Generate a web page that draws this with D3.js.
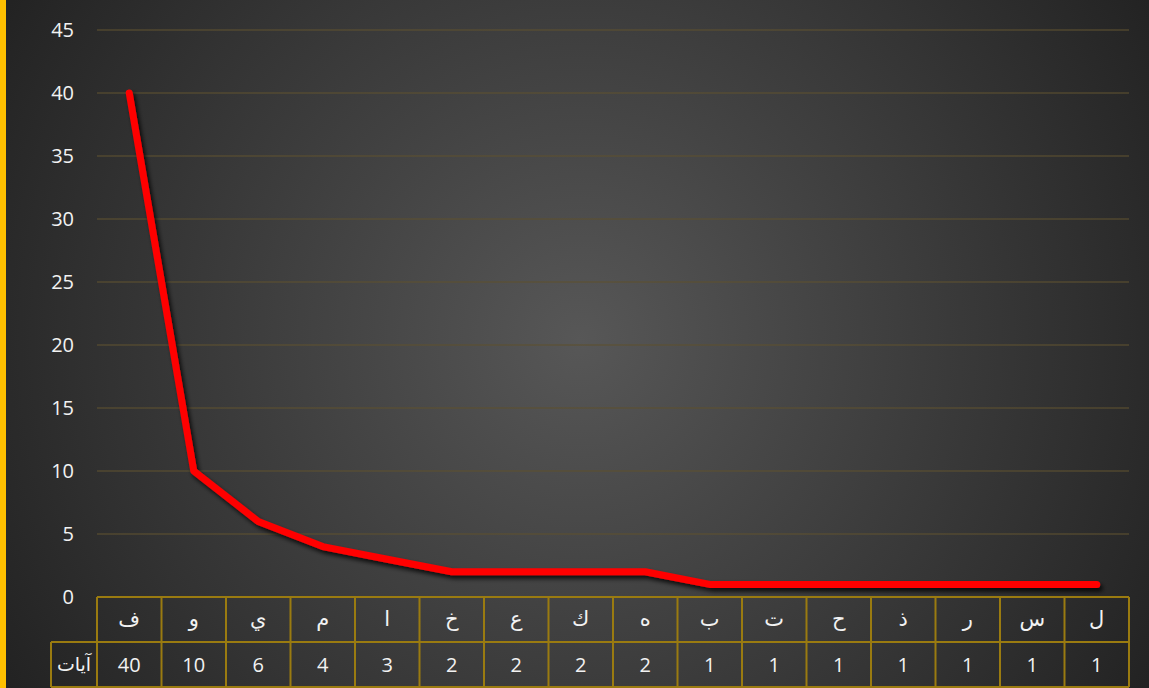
<!DOCTYPE html>
<html><head><meta charset="utf-8">
<script src="https://cdn.jsdelivr.net/npm/d3@7"></script>
<style>html,body{margin:0;padding:0;background:#2a2a2a;overflow:hidden}svg{display:block}</style>
</head><body>
<svg id="c" width="1149" height="688"></svg>
<script>
const categories = ["ف","و","ي","م","ا","خ","ع","ك","ه","ب","ت","ح","ذ","ر","س","ل"];
const values = [40,10,6,4,3,2,2,2,2,1,1,1,1,1,1,1];
const yTicks = [0,5,10,15,20,25,30,35,40,45];
const seriesName = "آيات";

const W = 1149, H = 688;
const svg = d3.select("#c");
const defs = svg.append("defs");
const rg = defs.append("radialGradient").attr("id","bg").attr("gradientUnits","userSpaceOnUse")
  .attr("cx",580).attr("cy",340).attr("r",700);
rg.append("stop").attr("offset","0").attr("stop-color","#575757");
rg.append("stop").attr("offset","1").attr("stop-color","#202020");
const f = defs.append("filter").attr("id","sh").attr("x","-10%").attr("y","-10%").attr("width","130%").attr("height","130%");
f.append("feDropShadow").attr("dx",2.5).attr("dy",3.5).attr("stdDeviation",2).attr("flood-color","#000").attr("flood-opacity",0.8);

svg.append("rect").attr("width",W).attr("height",H).attr("fill","url(#bg)");
svg.append("rect").attr("x",0).attr("y",0).attr("width",6).attr("height",H).attr("fill","#ffc000");

const x = d3.scaleBand().domain(categories).range([97,1129]).padding(0);
const y = d3.scaleLinear().domain([0,45]).range([597,30]);

const font = "'Open Sans','Noto Sans','DejaVu Sans',sans-serif";

// gridlines
svg.append("g").selectAll("line").data(yTicks.filter(d=>d>0)).join("line")
  .attr("x1",97).attr("x2",1129).attr("y1",d=>y(d)).attr("y2",d=>y(d))
  .attr("stroke","#5e5232").attr("stroke-opacity",0.75).attr("stroke-width",1.5);

// y axis
const yAxis = d3.axisLeft(y).tickValues(yTicks).tickSize(0).tickPadding(0);
const ga = svg.append("g").attr("transform","translate(74,0)").call(yAxis);
ga.select(".domain").remove();
ga.selectAll("text").attr("fill","#f2f2f2").attr("font-size",20).attr("font-family",font);

// line
const line = d3.line().x((d,i)=>x(categories[i])+x.bandwidth()/2).y(d=>y(d));
svg.append("path").datum(values).attr("d",line).attr("fill","none")
  .attr("stroke","#ff0000").attr("stroke-width",7).attr("stroke-linejoin","round").attr("stroke-linecap","round")
  .attr("filter","url(#sh)");

// data table
const tb = svg.append("g");
const r1 = 597, r2 = 642, r3 = 687;
const stroke = "#9a7b10";
tb.append("line").attr("x1",97).attr("x2",1129).attr("y1",r1).attr("y2",r1).attr("stroke",stroke).attr("stroke-width",2);
tb.append("line").attr("x1",51).attr("x2",1129).attr("y1",r2).attr("y2",r2).attr("stroke",stroke).attr("stroke-width",2);
tb.append("line").attr("x1",51).attr("x2",1129).attr("y1",r3).attr("y2",r3).attr("stroke",stroke).attr("stroke-width",2);
tb.selectAll("line.v").data(categories).join("line").attr("class","v")
  .attr("x1",d=>x(d)).attr("x2",d=>x(d)).attr("y1",r1).attr("y2",r3).attr("stroke",stroke).attr("stroke-width",2);
tb.append("line").attr("x1",1129).attr("x2",1129).attr("y1",r1).attr("y2",r3).attr("stroke",stroke).attr("stroke-width",2);
tb.append("line").attr("x1",51).attr("x2",51).attr("y1",r2).attr("y2",r3).attr("stroke",stroke).attr("stroke-width",2);

tb.selectAll("text.cat").data(categories).join("text").attr("class","cat")
  .attr("x",d=>x(d)+x.bandwidth()/2).attr("y",(r1+r2)/2).attr("dy","0.3em")
  .attr("text-anchor","middle").attr("fill","#f2f2f2").attr("font-size",21).attr("font-family",font).text(d=>d);
tb.selectAll("text.val").data(values).join("text").attr("class","val")
  .attr("x",(d,i)=>x(categories[i])+x.bandwidth()/2).attr("y",(r2+r3)/2).attr("dy","0.35em")
  .attr("text-anchor","middle").attr("fill","#f2f2f2").attr("font-size",20).attr("font-family",font).text(d=>d);
tb.append("text").attr("x",74).attr("y",(r2+r3)/2).attr("dy","0.35em").attr("text-anchor","middle")
  .attr("fill","#f2f2f2").attr("font-size",19).attr("font-family",font).text(seriesName);
</script>
</body></html>
